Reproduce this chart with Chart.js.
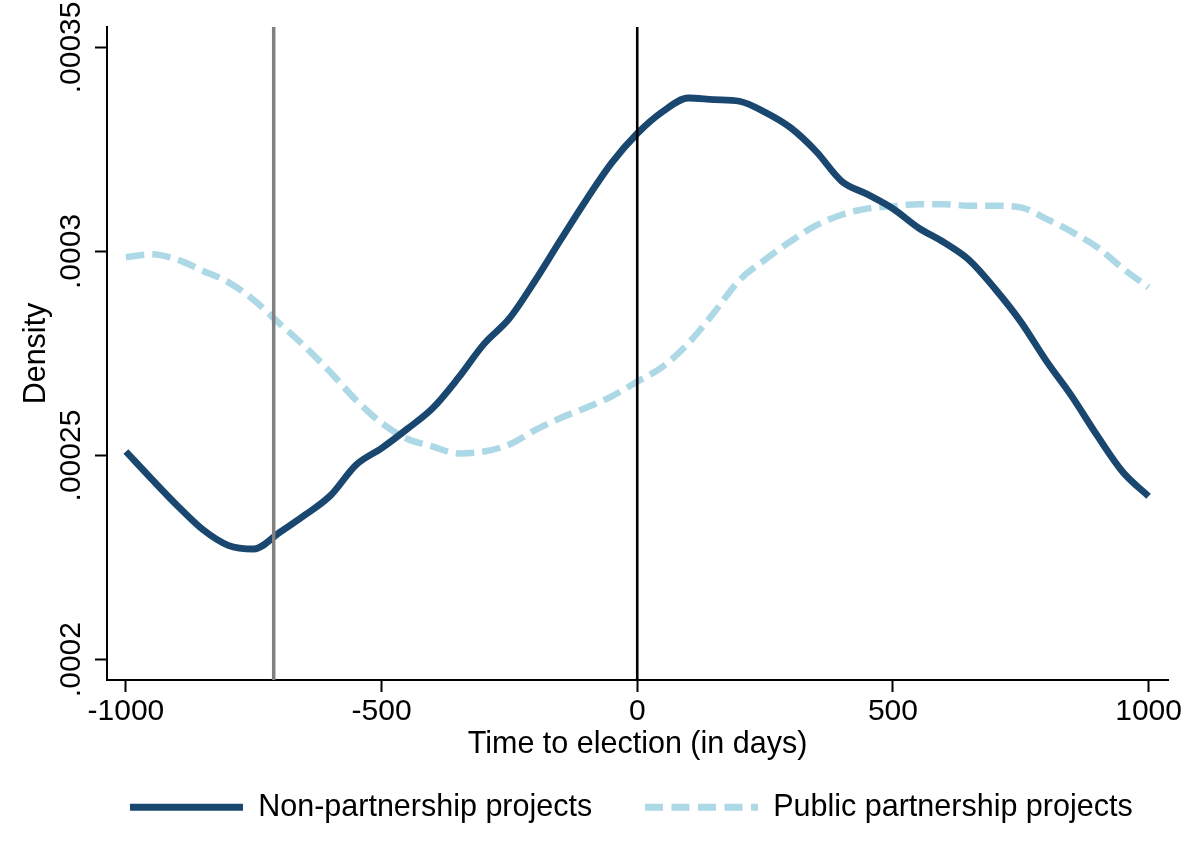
<!DOCTYPE html>
<html>
<head>
<meta charset="utf-8">
<script src="https://cdn.jsdelivr.net/npm/chart.js@4/dist/chart.umd.min.js"></script>
<style>
  html, body { margin: 0; padding: 0; background: #fff; }
  canvas { display: block; }
</style>
</head>
<body>
<canvas id="c" width="1194" height="853"></canvas>
<script>
// ---- data ----
const xDays = [-1000,-950,-900,-850,-800,-750,-700,-650,-600,-550,-500,-450,-400,-350,-300,-250,-200,-150,-100,-50,0,
               50,100,150,200,250,300,350,400,450,500,550,600,650,700,750,800,850,900,950,1000];

const nonPartnership = [0.0002510,0.0002443,0.0002378,0.0002319,0.0002280,0.0002271,0.0002311,0.0002354,0.0002402,0.0002477,0.0002518,
                        0.0002565,0.0002616,0.0002690,0.0002773,0.0002836,0.0002928,0.0003028,0.0003126,0.0003217,0.0003289,
                        0.0003343,0.0003376,0.0003372,0.0003368,0.0003341,0.0003303,0.0003245,0.0003172,0.0003140,0.0003105,
                        0.0003058,0.0003022,0.0002978,0.0002908,0.0002828,0.0002732,0.0002645,0.0002548,0.0002459,0.0002400];

const publicPartnership = [0.0002986,0.0002993,0.0002980,0.0002953,0.0002925,0.0002881,0.0002824,0.0002767,0.0002704,0.0002636,0.0002580,
                           0.0002541,0.0002522,0.0002505,0.0002510,0.0002527,0.0002562,0.0002592,0.0002617,0.0002645,0.0002681,
                           0.0002718,0.0002775,0.0002850,0.0002930,0.0002980,0.0003025,0.0003064,0.0003090,0.0003105,0.0003111,
                           0.0003116,0.0003116,0.0003112,0.0003112,0.0003108,0.0003080,0.0003048,0.0003010,0.0002958,0.0002912];

const seriesLabels = ['Non-partnership projects', 'Public partnership projects'];

const xTickValues = [-1000, -500, 0, 500, 1000];
const xTickLabels = ['-1000', '-500', '0', '500', '1000'];
const yTickValues = [0.0002, 0.00025, 0.0003, 0.00035];
const yTickLabels = ['.0002', '.00025', '.0003', '.00035'];

const refLineGray = -711;   // grey reference line (days)
const refLineBlack = 0;     // election day

const xMin = -1037, xMax = 1038;
const yMin = 0.000195, yMax = 0.000355;

// ---- styling / layout ----
const FONT = "'Liberation Sans', Arial, Helvetica, sans-serif";
const LEFT_PAD = 40;
const RIGHT_PAD = -28.6;
const AREA_LEFT = 107, AREA_RIGHT = 1168;

const toPts = (xs, ys) => xs.map((x, i) => ({ x: x, y: ys[i] }));

new Chart(document.getElementById('c'), {
  type: 'line',
  data: {
    datasets: [
      {
        label: seriesLabels[0],
        data: toPts(xDays, nonPartnership),
        borderColor: '#1a476f',
        backgroundColor: '#1a476f',
        borderWidth: 6.8,
        pointRadius: 0,
        cubicInterpolationMode: 'monotone',
        borderJoinStyle: 'round',
        fill: false,
        order: 1
      },
      {
        label: seriesLabels[1],
        data: toPts(xDays, publicPartnership),
        borderColor: '#add8e6',
        backgroundColor: '#add8e6',
        borderWidth: 6.5,
        borderDash: [18.5, 8],
        pointRadius: 0,
        cubicInterpolationMode: 'monotone',
        fill: false,
        order: 2
      },
      {
        label: 'refGray',
        data: [{ x: refLineGray, y: yMin }, { x: refLineGray, y: yMax }],
        borderColor: '#808080',
        borderWidth: 3.5,
        pointRadius: 0,
        tension: 0,
        fill: false,
        order: 0
      },
      {
        label: 'refBlack',
        data: [{ x: refLineBlack, y: yMin }, { x: refLineBlack, y: yMax }],
        borderColor: '#000000',
        borderWidth: 2.6,
        pointRadius: 0,
        tension: 0,
        fill: false,
        order: 0
      }
    ]
  },
  options: {
    responsive: false,
    animation: false,
    devicePixelRatio: 1,
    layout: { padding: { left: LEFT_PAD, right: RIGHT_PAD, top: 27, bottom: 20.4 } },
    plugins: {
      tooltip: { enabled: false },
      legend: {
        display: true,
        position: 'bottom',
        align: 'center',
        fullSize: true,
        labels: {
          color: '#000',
          font: { family: FONT, size: 30.5 },
          padding: 52.8,
          usePointStyle: true,
          pointStyleWidth: 113,
          generateLabels: (chart) => chart.data.datasets
            .map((ds, i) => ({ ds, i }))
            .filter(o => seriesLabels.includes(o.ds.label))
            .map(o => ({
              text: o.ds.label,
              fillStyle: o.ds.borderColor,
              strokeStyle: o.ds.borderColor,
              fontColor: '#000',
              lineWidth: 7,
              lineDash: o.ds.borderDash ? [18, 8.5] : [],
              lineDashOffset: 0,
              lineCap: 'butt',
              pointStyle: 'line',
              hidden: false,
              datasetIndex: o.i
            }))
        }
      }
    },
    scales: {
      x: {
        type: 'linear',
        position: 'bottom',
        min: xMin,
        max: xMax,
        afterBuildTicks: (s) => { s.ticks = xTickValues.map(v => ({ value: v })); },
        afterFit: (s) => { s.height = 59.3; },
        grid: { display: true, drawOnChartArea: false, drawTicks: true, tickLength: 12, tickWidth: 2, tickColor: '#000' },
        border: { display: true, color: '#000', width: 2 },
        ticks: {
          color: '#000',
          font: { family: FONT, size: 30 },
          padding: 1.3,
          maxRotation: 0,
          minRotation: 0,
          autoSkip: false,
          callback: (v, i) => xTickLabels[i]
        },
        title: {
          display: true,
          text: 'Time to election (in days)',
          color: '#000',
          font: { family: FONT, size: 30.5 },
          padding: { top: 0, bottom: -23.4 }
        }
      },
      y: {
        type: 'linear',
        position: 'left',
        min: yMin,
        max: yMax,
        afterBuildTicks: (s) => { s.ticks = yTickValues.map(v => ({ value: v })); },
        afterFit: (s) => { s.width = AREA_LEFT - LEFT_PAD; },
        grid: { display: true, drawOnChartArea: false, drawTicks: true, tickLength: 12, tickWidth: 2, tickColor: '#000' },
        border: { display: true, color: '#000', width: 2 },
        ticks: {
          color: '#000',
          font: { family: FONT, size: 30 },
          minRotation: 90,
          maxRotation: 90,
          crossAlign: 'center',
          padding: -23,
          autoSkip: false,
          callback: (v, i) => yTickLabels[i]
        },
        title: {
          display: true,
          text: 'Density',
          color: '#000',
          font: { family: FONT, size: 30.5 },
          padding: { top: -21.5, bottom: 0 }
        }
      },
      yR: {
        type: 'linear',
        position: 'right',
        display: true,
        grid: { display: false },
        border: { display: false },
        ticks: { display: false },
        afterFit: (s) => { s.width = (1194 - RIGHT_PAD) - AREA_RIGHT; }
      }
    }
  }
});
</script>
</body>
</html>
